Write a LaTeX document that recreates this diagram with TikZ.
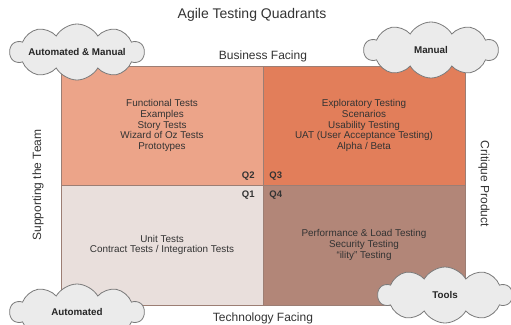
\documentclass[tikz,border=0pt]{standalone}
\usepackage{fontspec}
\setmainfont{Liberation Sans}
\usetikzlibrary{shapes.symbols}
\definecolor{qtwo}{HTML}{ECA489}
\definecolor{qthree}{HTML}{E27E5A}
\definecolor{qone}{HTML}{E9DFDC}
\definecolor{qfour}{HTML}{B28678}
\definecolor{qline}{HTML}{9C7E74}
\definecolor{cloudfill}{HTML}{EBEBEB}
\definecolor{cloudline}{HTML}{7A7A7A}
\definecolor{txt}{HTML}{333333}
\tikzset{
  quad/.style={draw=qline, line width=0.6bp, minimum width=202bp, minimum height=119bp,
    inner sep=0pt, align=center, text=txt, font=\fontsize{9.9bp}{10.7bp}\selectfont},
  qlabel/.style={font=\bfseries\fontsize{9.5bp}{10bp}\selectfont, text=txt, inner sep=0pt},
  axislabel/.style={font=\fontsize{12bp}{14bp}\selectfont, text=txt, inner sep=0pt},
  bubble/.style={cloud, cloud puffs=10, cloud puff arc=120, cloud ignores aspect, draw=cloudline,
    line width=0.8bp, fill=cloudfill, minimum width=134bp, minimum height=56bp, inner sep=0pt,
    font=\bfseries\fontsize{9.8bp}{10bp}\selectfont, text=black!85}
}
\begin{document}
\begin{tikzpicture}[x=1bp,y=-1bp]
\useasboundingbox (0,0) rectangle (511,324);
\node[font=\fontsize{14bp}{16bp}\selectfont, text=txt] (title) at (252,15) {Agile Testing Quadrants};
% quadrants
\node[quad, fill=qtwo] (q2) at (162,125.5) {Functional Tests\\Examples\\Story Tests\\Wizard of Oz Tests\\Prototypes};
\node[quad, fill=qthree] (q3) at (364,125.5) {Exploratory Testing\\Scenarios\\Usability Testing\\UAT (User Acceptance Testing)\\Alpha / Beta};
\node[quad, fill=qone, minimum height=120bp] (q1) at (162,245) {Unit Tests\\Contract Tests / Integration Tests};
\node[quad, fill=qfour, minimum height=120bp] (q4) at (364,245) {Performance \& Load Testing\\Security Testing\\``ility'' Testing};
% quadrant labels
\node[qlabel] (l2) at ([xshift=-15bp,yshift=9bp]q2.south east) {Q2};
\node[qlabel] (l3) at ([xshift=13bp,yshift=9bp]q3.south west) {Q3};
\node[qlabel] (l1) at ([xshift=-15bp,yshift=-10bp]q1.north east) {Q1};
\node[qlabel] (l4) at ([xshift=13bp,yshift=-10bp]q4.north west) {Q4};
% axis labels
\node[axislabel] (bf) at (263,56) {Business Facing};
\node[axislabel] (tf) at (263,318) {Technology Facing};
\node[axislabel, rotate=90] (st) at (38,185) {Supporting the Team};
\node[axislabel, rotate=-90] (cp) at (484,184) {Critique Product};
% clouds
\node[bubble] (c1) at (77,52) {Automated \& Manual};
\node[bubble] (c2) at (431,50) {Manual};
\node[bubble] (c3) at (77,312) {Automated};
\node[bubble] (c4) at (445,295) {Tools};
\end{tikzpicture}
\end{document}
